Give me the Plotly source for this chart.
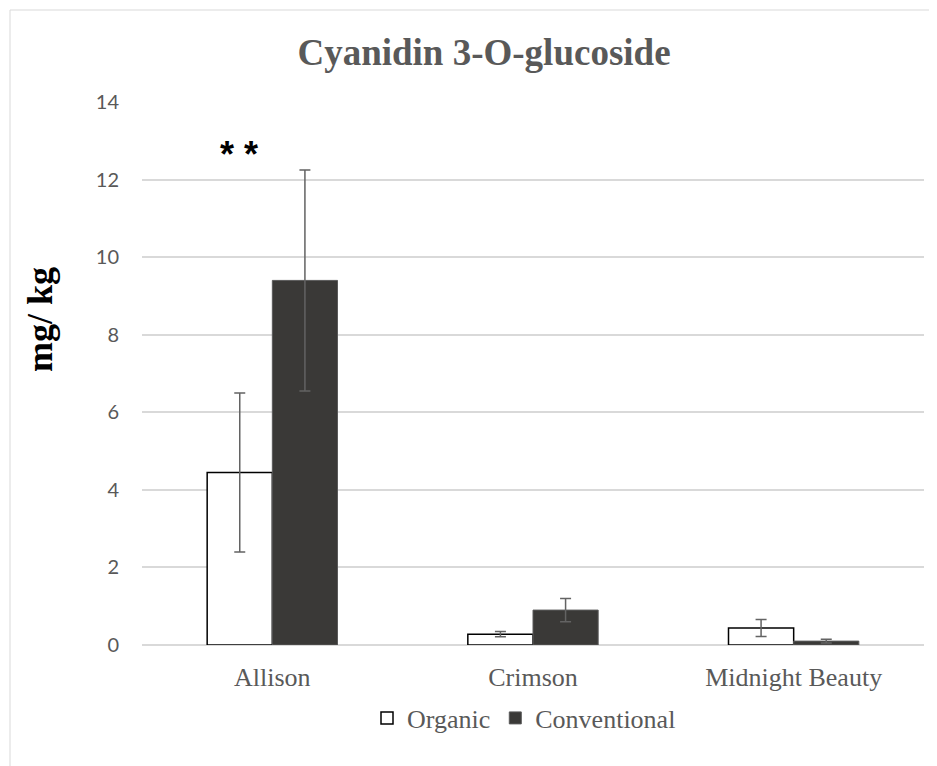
import plotly.graph_objects as go

categories = ["Allison", "Crimson", "Midnight Beauty"]
organic = [4.45, 0.28, 0.44]
organic_err = [2.05, 0.07, 0.22]
conventional = [9.4, 0.9, 0.1]
conventional_err = [2.85, 0.3, 0.05]
y_ticks = [0, 2, 4, 6, 8, 10, 12, 14]

# page has an 8px body margin; figure coordinates are screen coordinates minus 8
OFF = 8
W, H = 937 - OFF, 766 - OFF
L, T = 142 - OFF, 102 - OFF
R = W - (924 - OFF)
B = H - (645 - OFF)
pw, ph = W - L - R, H - T - B

def px_to_paper_x(px):
    return (px - OFF - L) / pw

def px_to_paper_y(py):
    return (H - B - (py - OFF)) / ph

serif = "Liberation Serif"
gray_text = "#595959"

fig = go.Figure()
fig.add_trace(go.Bar(
    name="Organic", x=categories, y=organic,
    marker=dict(color="white", line=dict(color="black", width=1.5)),
    error_y=dict(type="data", array=organic_err, color="#636363", thickness=1.5, width=5.5),
))
fig.add_trace(go.Bar(
    name="Conventional", x=categories, y=conventional,
    marker=dict(color="#3a3937", line=dict(color="#5a5a5a", width=1)),
    error_y=dict(type="data", array=conventional_err, color="#636363", thickness=1.5, width=5.5),
))

fig.update_layout(
    width=W, height=H, autosize=False,
    margin=dict(l=L, r=R, t=T, b=B),
    paper_bgcolor="white", plot_bgcolor="white",
    barmode="group", bargap=0.5, bargroupgap=0,
    title=dict(text="Cyanidin 3-O-glucoside", x=px_to_paper_x(484), xanchor="center",
               y=1 - (52 - OFF) / H, yanchor="middle", xref="paper",
               font=dict(family=serif, size=37, color=gray_text, weight="bold")),
    legend=dict(orientation="h", x=px_to_paper_x(524), xanchor="center",
                y=px_to_paper_y(718), yanchor="middle",
                font=dict(family=serif, size=26, color=gray_text),
                itemwidth=30, bgcolor="rgba(0,0,0,0)"),
    showlegend=True,
)
fig.update_yaxes(range=[0, 14], tickvals=y_ticks, showgrid=True, gridcolor="#d9d9d9", gridwidth=1.5,
                 zeroline=True, zerolinecolor="#d9d9d9", zerolinewidth=1.5,
                 showline=False, ticks="", ticklabelstandoff=22,
                 tickfont=dict(family="Lato", size=20, color=gray_text))
fig.update_xaxes(showgrid=False, showline=False, ticks="", ticklabelstandoff=14,
                 tickfont=dict(family=serif, size=26, color=gray_text))

fig.add_annotation(text="<b>mg/ kg</b>", textangle=-90, xref="paper", yref="paper",
                   x=px_to_paper_x(40), y=px_to_paper_y(320), xanchor="center", yanchor="middle",
                   showarrow=False, font=dict(family=serif, size=36, color="black"))
fig.add_annotation(text="<b>* *</b>", xref="x", yref="paper", x="Allison", xshift=-33,
                   y=px_to_paper_y(154), yanchor="middle", showarrow=False,
                   font=dict(family="Liberation Sans", size=36, color="black"))

fig.add_shape(type="rect", xref="paper", yref="paper",
              x0=px_to_paper_x(10), x1=px_to_paper_x(940),
              y0=px_to_paper_y(775), y1=px_to_paper_y(10),
              line=dict(color="#d9d9d9", width=1), fillcolor="rgba(0,0,0,0)", layer="below")

fig.write_html("out.html")
